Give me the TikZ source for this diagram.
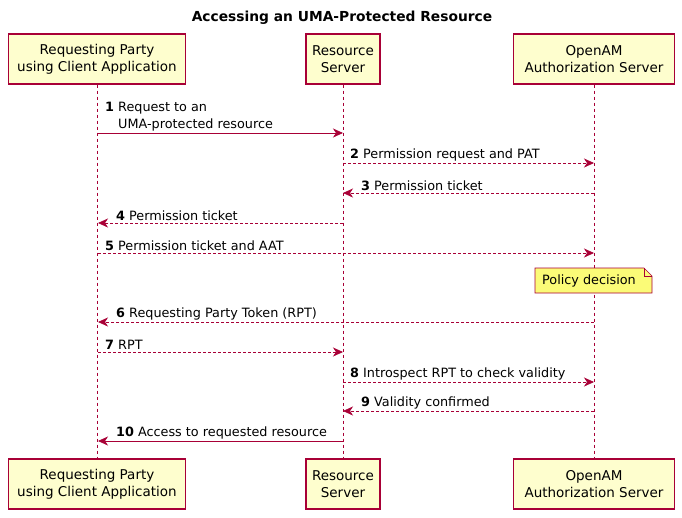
\documentclass[tikz,border=0pt]{standalone}
\usepackage{fontspec}
\setmainfont{DejaVu Sans}
\usetikzlibrary{arrows.meta,calc}
\definecolor{uline}{HTML}{A80036}
\definecolor{ubox}{HTML}{FEFECE}
\definecolor{unote}{HTML}{FBFB77}
\tikzset{
  part/.style={draw=uline,fill=ubox,line width=1.1pt,align=center,minimum height=50pt,inner xsep=6pt,font=\fontsize{13.5}{17}\selectfont},
  life/.style={draw=uline,dashed,line width=0.6pt},
  sync/.style={draw=uline,line width=0.7pt,-{Stealth[length=10pt,width=9pt,inset=3pt]}},
  reply/.style={sync,dash pattern=on 3pt off 2pt},
  msg/.style={anchor=south west,inner sep=1pt,font=\fontsize{12.8}{17}\selectfont,align=left}
}
\begin{document}
\begin{tikzpicture}[x=1pt,y=-1pt]
\useasboundingbox (0,0) rectangle (682,517);
\node [font=\bfseries\fontsize{13.8}{16}\selectfont] (title) at (342,18) {Accessing an UMA-Protected Resource};
% participants
\node [part,minimum width=177pt] (rp) at (97,59) {Requesting Party\\using Client Application};
\node [part,minimum width=74pt] (rs) at (343,59) {Resource\\Server};
\node [part,minimum width=161pt] (as) at (594,59) {OpenAM\\Authorization Server};
\node [part,minimum width=177pt] (rpb) at (97,484) {Requesting Party\\using Client Application};
\node [part,minimum width=74pt] (rsb) at (343,484) {Resource\\Server};
\node [part,minimum width=161pt] (asb) at (594,484) {OpenAM\\Authorization Server};
\draw [life] (rp) -- (rpb);
\draw [life] (rs) -- (rsb);
\draw [life] (as) -- (asb);
% messages
\coordinate (m1a) at (98,133); \coordinate (m1b) at (343,133);
\draw [sync] (m1a) -- (m1b);
\node [msg] (l1) at (104,132) {\textbf{1} Request to an\\\phantom{\textbf{1} }UMA-protected resource};
\coordinate (m2a) at (343,163); \coordinate (m2b) at (594,163);
\draw [reply] (m2a) -- (m2b);
\node [msg] (l2) at (349,162) {\textbf{2} Permission request and PAT};
\coordinate (m3a) at (594,193); \coordinate (m3b) at (343,193);
\draw [reply] (m3a) -- (m3b);
\node [msg] (l3) at (360,192) {\textbf{3} Permission ticket};
\coordinate (m4a) at (343,223); \coordinate (m4b) at (98,223);
\draw [reply] (m4a) -- (m4b);
\node [msg] (l4) at (115,222) {\textbf{4} Permission ticket};
\coordinate (m5a) at (98,253); \coordinate (m5b) at (594,253);
\draw [reply] (m5a) -- (m5b);
\node [msg] (l5) at (104,252) {\textbf{5} Permission ticket and AAT};
% note
\coordinate (n1) at (535,268); \coordinate (n2) at (644,268); \coordinate (n3) at (652,276);
\coordinate (n4) at (652,293); \coordinate (n5) at (535,293);
\filldraw [draw=uline,fill=unote,line width=0.6pt] (n1) -- (n2) -- (n3) -- (n4) -- (n5) -- cycle;
\draw [uline,line width=0.6pt] (n2) -- (644,276) -- (n3);
\node [font=\fontsize{12.8}{15}\selectfont] (note) at (589,281) {Policy decision};
\coordinate (m6a) at (594,322); \coordinate (m6b) at (98,322);
\draw [reply] (m6a) -- (m6b);
\node [msg] (l6) at (115,321) {\textbf{6} Requesting Party Token (RPT)};
\coordinate (m7a) at (98,352); \coordinate (m7b) at (343,352);
\draw [reply] (m7a) -- (m7b);
\node [msg] (l7) at (104,351) {\textbf{7} RPT};
\coordinate (m8a) at (343,382); \coordinate (m8b) at (594,382);
\draw [reply] (m8a) -- (m8b);
\node [msg] (l8) at (349,381) {\textbf{8} Introspect RPT to check validity};
\coordinate (m9a) at (594,411); \coordinate (m9b) at (343,411);
\draw [reply] (m9a) -- (m9b);
\node [msg] (l9) at (360,410) {\textbf{9} Validity confirmed};
\coordinate (m10a) at (343,441); \coordinate (m10b) at (98,441);
\draw [sync] (m10a) -- (m10b);
\node [msg] (l10) at (115,440) {\textbf{10} Access to requested resource};
\end{tikzpicture}
\end{document}
